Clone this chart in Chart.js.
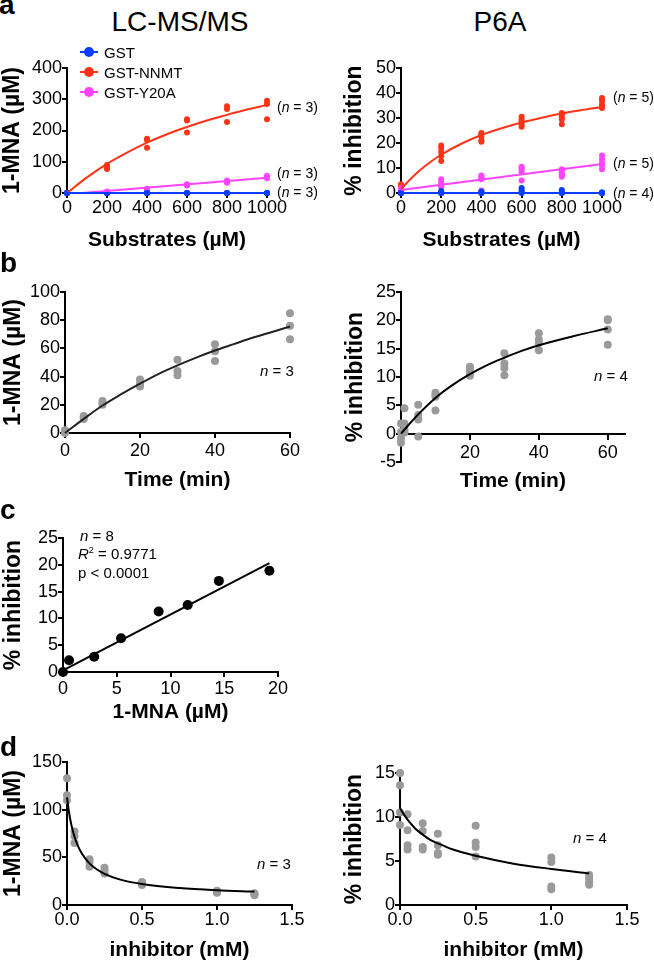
<!DOCTYPE html>
<html>
<head>
<meta charset="utf-8">
<script src="https://cdn.jsdelivr.net/npm/chart.js@4.4.0/dist/chart.umd.min.js"></script>
<style>
  body { margin: 0; background: #fff; }
  #fig { position: relative; width: 654px; height: 964px; overflow: hidden;
         font-family: "Liberation Sans", Arial, sans-serif; color: #000; }
  #fig canvas { position: absolute; }
  .t { position: absolute; line-height: 1; white-space: nowrap; }
  .lg-line { position: absolute; height: 2px; width: 18px; }
  .lg-dot { position: absolute; width: 10px; height: 10px; border-radius: 50%; }
</style>
</head>
<body>
<div id="fig"></div>
<script>
// ── data: panel a (substrates, uM) ──
var subX = [0, 200, 400, 600, 800, 1000];
var subTicks = [0, 200, 400, 600, 800, 1000];

// LC-MS/MS, 1-MNA (uM), replicates per substrate level (n = 3)
var msNNMT = [[0, 0, 0], [90, 82, 77], [174, 170, 145], [236, 232, 194], [278, 269, 227], [295, 285, 236]];
var msY20A = [[0, 0, 0], [5, 3, 2], [14, 12, 10], [28, 26, 24], [40, 36, 33], [55, 50, 47]];
var msGST  = [[0, 0, 0], [0, 0, 0], [0, 0, 0], [0, 0, 0], [0, 0, 0], [0, 0, 0]];
var msYTicks = [0, 100, 200, 300, 400];

// LC-MS/MS fitted curves
var fitMsX    = [0, 100, 200, 300, 400, 500, 600, 700, 800, 900, 1000];
var fitMsNNMT = [0, 50, 93, 129, 161, 188, 211, 232, 250, 267, 282];
var fitMsY20AX = [75, 1000];
var fitMsY20A  = [0, 49];
var fitMsGSTX  = [0, 1000];
var fitMsGST   = [0, 0];

// P6A, % inhibition (n = 5, 5, 4)
var p6aNNMT = [[3.5, 2.5, 2, 1.5, 1], [19, 18, 16.4, 14.8, 12.8], [24, 23.5, 22.5, 21, 20.5],
               [30.5, 29.5, 28.5, 27.5, 26.5], [32, 31.5, 30.5, 29.5, 27.5], [38, 37, 35.5, 34.5, 34]];
var p6aY20A = [[2, 1.5, 1, 1, 0.5], [5.5, 4.5, 3.5, 3, 2.5], [7, 6.5, 6, 5.5, 1],
               [10.5, 10, 9.5, 8.5, 5], [9.5, 8.5, 7.5, 7, 6.5], [15, 13.5, 12, 11, 9.5]];
var p6aGST  = [[0, 0, 0, 0], [0.8, 0.3, 0, 0], [0.6, 0.2, 0, 0], [2, 1.2, 0.5, 0], [1.2, 0.5, 0, 0], [0.3, 0, 0, 0]];
var p6aYTicks = [0, 10, 20, 30, 40, 50];

var fitP6aX    = [0, 50, 100, 150, 200, 300, 400, 500, 600, 700, 800, 900, 1000];
var fitP6aNNMT = [1.5, 5.8, 9.5, 12.6, 15.3, 19.7, 23.2, 25.9, 28.2, 30.1, 31.8, 33.2, 34.4];
var fitP6aY20AX = [0, 1000];
var fitP6aY20A  = [1.2, 11.6];
var fitP6aGSTX  = [0, 1000];
var fitP6aGST   = [0, 0];

// ── data: panel b (time, min) ──
var timeMsX = [0, 5, 10, 20, 30, 40, 60];
var timeMs  = [[0, 1, 2], [12, 11, 10], [22.7, 21, 20], [38, 35, 33], [52, 44, 41], [63, 58, 51], [85, 76, 66.5]];
var fitTimeMsX = [0, 5, 10, 15, 20, 25, 30, 35, 40, 45, 50, 55, 60];
var fitTimeMs  = [0, 10, 19.5, 27.5, 35, 42, 48, 53.5, 58.5, 63, 67.5, 71.5, 75.5];
var timeTicks = [0, 20, 40, 60];
var timeMsYTicks = [0, 20, 40, 60, 80, 100];

var timeP6aX = [0, 1, 5, 10, 20, 30, 40, 60];
var timeP6a  = [[1.8, 0.3, -0.8, -1.6], [4.5, 1.8, 0.8, 0.2], [5.1, 3.3, 2.5, -0.5], [7.2, 6.8, 6.5, 4.1],
                [11.8, 11.4, 10.8, 10.2], [14.2, 12.4, 11.6, 10.3], [17.7, 16.6, 16.0, 14.7], [20.2, 20.0, 18.4, 15.7]];
var fitTimeP6aX = [0, 2, 5, 10, 15, 20, 25, 30, 35, 40, 50, 60];
var fitTimeP6a  = [0, 1.4, 3.4, 6.3, 8.6, 10.5, 12.1, 13.4, 14.6, 15.6, 17.2, 18.6];
var timeP6aXTicks = [20, 40, 60];
var timeP6aYTicks = [-5, 0, 5, 10, 15, 20, 25];

// ── data: panel c (correlation) ──
var corrMNA = [0, 0.56, 2.9, 5.4, 8.9, 11.6, 14.5, 19.2];
var corrInh = [0, 2.2, 2.85, 6.3, 11.3, 12.5, 17.0, 18.9];
var fitCorrX = [0, 19.2];
var fitCorrY = [0.3, 20.3];
var corrXTicks = [0, 5, 10, 15, 20];
var corrYTicks = [0, 5, 10, 15, 20, 25];

// ── data: panel d (inhibitor, mM) ──
var inhX = [0, 0.05, 0.15, 0.25, 0.5, 1.0, 1.25];
var inhMs = [[133, 115, 110], [77, 72, 65], [48, 45, 40], [39, 36, 33], [24, 22, 21], [15, 13.5, 12.8], [12.2, 11, 10.5]];
var fitInhMsX = [0, 0.01, 0.02, 0.03, 0.05, 0.075, 0.1, 0.15, 0.2, 0.25, 0.35, 0.5, 0.75, 1.0, 1.25];
var fitInhMs  = [113, 100.9, 91.3, 83.5, 71.6, 61.2, 53.7, 43.6, 37.2, 32.7, 26.9, 22.0, 17.8, 15.5, 14.1];
var inhP6a = [[15, 13.6, 10.5, 9.1], [10.3, 8.5, 6.8, 6.3], [9.3, 8.4, 6.6, 6.3], [8.1, 6.8, 5.9, 5.7],
              [9.0, 7.1, 6.6, 5.5], [5.4, 4.9, 2.1, 1.8], [3.4, 3.0, 2.6, 2.3]];
var fitInhP6aX = [0, 0.025, 0.05, 0.1, 0.15, 0.2, 0.25, 0.35, 0.5, 0.75, 1.0, 1.25];
var fitInhP6a  = [11, 10.3, 9.7, 8.7, 8.0, 7.4, 7.0, 6.3, 5.6, 4.7, 4.1, 3.6];
var inhXTicks = [0, 0.5, 1, 1.5];
var inhXLabels = ['0.0', '0.5', '1.0', '1.5'];
var inhMsYTicks = [0, 50, 100, 150];
var inhP6aYTicks = [0, 5, 10, 15];

// ── look ──
var FONT = '"Liberation Sans", Arial, sans-serif';
var RED = '#ff3318', PINK = '#ff44ff', BLUE = '#0a3dff', GREY = '#9a9a9a';
var fig = document.getElementById('fig');

function reps(xs, rows) {
  var out = [];
  xs.forEach(function(x, i) { rows[i].forEach(function(y) { out.push({ x: x, y: y }); }); });
  return out;
}
function pts(xs, ys) { return xs.map(function(x, i) { return { x: x, y: ys[i] }; }); }

function dots(data, color, r) {
  return { data: data, showLine: false, pointRadius: r, pointHoverRadius: r,
           backgroundColor: color, borderWidth: 0, pointBorderWidth: 0, clip: false };
}
function fit(data, color, smooth) {
  return { data: data, showLine: true, pointRadius: 0, pointHoverRadius: 0, borderColor: color,
           borderWidth: 2, tension: smooth ? 0.4 : 0, cubicInterpolationMode: smooth ? 'monotone' : 'default',
           fill: false, clip: false };
}

function axis(s, dir, size, pad) {
  return {
    type: 'linear', min: s.min, max: s.max,
    position: s.pos || (dir === 'x' ? 'bottom' : 'left'),
    afterBuildTicks: function(sc) { sc.ticks = s.ticks.map(function(v) { return { value: v }; }); },
    afterFit: function(sc) { if (dir === 'x') sc.height = size; else sc.width = size; },
    grid: { drawOnChartArea: false, drawTicks: true, tickLength: 5, lineWidth: 2, color: '#000' },
    border: { display: true, color: '#000', width: 2 },
    ticks: { color: '#000', padding: pad, maxRotation: 0, autoSkip: false,
             font: { family: FONT, size: 18 },
             callback: function(v, i) { return s.labels ? s.labels[i] : String(s.ticks[i]); } },
    title: { display: true, text: s.title, color: '#000', padding: 0,
             font: { family: FONT, size: dir === 'x' ? 21 : 23, weight: 'bold' } }
  };
}

// b: plot area in page px, yw / xh: width of y axis box / height of x axis box
function panel(b, xs, ys, datasets) {
  var padT = 14, padR = 24, padB = b.padB || 0;
  var left = b.L - b.yw, top = b.T - padT;
  var w = b.R + padR - left;
  var h = b.B + (xs.pos ? 0 : b.xh) + padB - top;
  var cv = document.createElement('canvas');
  cv.width = w; cv.height = h;
  cv.style.left = left + 'px'; cv.style.top = top + 'px';
  fig.appendChild(cv);
  new Chart(cv, {
    type: 'scatter',
    data: { datasets: datasets },
    options: {
      responsive: false, animation: false,
      layout: { padding: { top: padT, right: padR, bottom: padB, left: 0 } },
      plugins: { legend: { display: false }, tooltip: { enabled: false } },
      scales: { x: axis(xs, 'x', b.xh, b.xpad), y: axis(ys, 'y', b.yw, 0) }
    }
  });
}

// ── panel a ──
panel({ L: 67, R: 267, T: 68, B: 193, yw: 68, xh: 60, xpad: -1 },
  { min: 0, max: 1000, ticks: subTicks, title: 'Substrates (\u00b5M)' },
  { min: 0, max: 400, ticks: msYTicks, title: '1-MNA (\u00b5M)' },
  [ fit(pts(fitMsGSTX, fitMsGST), BLUE, false),
    fit(pts(fitMsY20AX, fitMsY20A), PINK, false),
    fit(pts(fitMsX, fitMsNNMT), RED, true),
    dots(reps(subX, msGST), BLUE, 3),
    dots(reps(subX, msY20A), PINK, 3),
    dots(reps(subX, msNNMT), RED, 3) ]);

panel({ L: 401, R: 602, T: 68, B: 193, yw: 60, xh: 60, xpad: -1 },
  { min: 0, max: 1000, ticks: subTicks, title: 'Substrates (\u00b5M)' },
  { min: 0, max: 50, ticks: p6aYTicks, title: '% inhibition' },
  [ fit(pts(fitP6aX, fitP6aNNMT), RED, true),
    fit(pts(fitP6aY20AX, fitP6aY20A), PINK, false),
    fit(pts(fitP6aGSTX, fitP6aGST), BLUE, false),
    dots(reps(subX, p6aGST), BLUE, 3),
    dots(reps(subX, p6aY20A), PINK, 3),
    dots(reps(subX, p6aNNMT), RED, 3) ]);

// ── panel b ──
panel({ L: 65, R: 290, T: 292, B: 433, yw: 65, xh: 60, xpad: 2 },
  { min: 0, max: 60, ticks: timeTicks, title: 'Time (min)' },
  { min: 0, max: 100, ticks: timeMsYTicks, title: '1-MNA (\u00b5M)' },
  [ fit(pts(fitTimeMsX, fitTimeMs), '#222', true),
    dots(reps(timeMsX, timeMs), GREY, 4) ]);

panel({ L: 401, R: 625, T: 292, B: 462, yw: 59, xh: 60, xpad: 4, padB: 30 },
  { min: 0, max: 65, ticks: timeP6aXTicks, title: 'Time (min)', pos: { y: 0 } },
  { min: -5, max: 25, ticks: timeP6aYTicks, title: '% inhibition' },
  [ fit(pts(fitTimeP6aX, fitTimeP6a), '#000', true),
    dots(reps(timeP6aX, timeP6a), GREY, 4) ]);

// ── panel c ──
panel({ L: 63, R: 278, T: 538, B: 672, yw: 63, xh: 53, xpad: 1 },
  { min: 0, max: 20, ticks: corrXTicks, title: '1-MNA (\u00b5M)' },
  { min: 0, max: 25, ticks: corrYTicks, title: '% inhibition' },
  [ fit(pts(fitCorrX, fitCorrY), '#000', false),
    dots(pts(corrMNA, corrInh), '#000', 5) ]);

// ── panel d ──
panel({ L: 67, R: 292, T: 762, B: 905, yw: 67, xh: 58, xpad: -1 },
  { min: 0, max: 1.5, ticks: inhXTicks, labels: inhXLabels, title: 'inhibitor (mM)' },
  { min: 0, max: 150, ticks: inhMsYTicks, title: '1-MNA (\u00b5M)' },
  [ fit(pts(fitInhMsX, fitInhMs), '#000', true),
    dots(reps(inhX, inhMs), GREY, 4) ]);

panel({ L: 400, R: 627, T: 773, B: 905, yw: 59, xh: 58, xpad: -1 },
  { min: 0, max: 1.5, ticks: inhXTicks, labels: inhXLabels, title: 'inhibitor (mM)' },
  { min: 0, max: 15, ticks: inhP6aYTicks, title: '% inhibition' },
  [ fit(pts(fitInhP6aX, fitInhP6a), '#000', true),
    dots(reps(inhX, inhP6a), GREY, 4) ]);

// ── text overlays ──
function txt(html, left, top, size, extra) {
  var d = document.createElement('div');
  d.className = 't';
  d.innerHTML = html;
  d.style.left = left + 'px'; d.style.top = top + 'px'; d.style.fontSize = size + 'px';
  if (extra) for (var k in extra) d.style[k] = extra[k];
  fig.appendChild(d);
  return d;
}
var bold = { fontWeight: 'bold' };
txt('a', -1, -9, 28, bold);
txt('b', 0, 249, 28, bold);
txt('c', 0, 496, 28, bold);
txt('d', 0, 733, 28, bold);
txt('LC-MS/MS', 80, 8, 28, { width: '200px', textAlign: 'center' });
txt('P6A', 400, 8, 28, { width: '200px', textAlign: 'center' });

// legend
var legendItems = [['GST', BLUE, 52], ['GST-NNMT', RED, 72], ['GST-Y20A', PINK, 92]];
legendItems.forEach(function(it) {
  var ln = document.createElement('div');
  ln.className = 'lg-line'; ln.style.left = '80px'; ln.style.top = (it[2] - 1) + 'px'; ln.style.background = it[1];
  fig.appendChild(ln);
  var dt = document.createElement('div');
  dt.className = 'lg-dot'; dt.style.left = '84px'; dt.style.top = (it[2] - 5) + 'px'; dt.style.background = it[1];
  fig.appendChild(dt);
  txt(it[0], 104, it[2] - 7.5, 15);
});

// n labels
txt('(<i>n</i> = 3)', 277, 100, 14);
txt('(<i>n</i> = 3)', 277, 166, 14);
txt('(<i>n</i> = 3)', 277, 185, 14);
txt('(<i>n</i> = 5)', 613, 90, 14);
txt('(<i>n</i> = 5)', 613, 156, 14);
txt('(<i>n</i> = 4)', 613, 186, 14);
txt('<i>n</i> = 3', 260, 362.5, 15);
txt('<i>n</i> = 4', 594, 367.5, 15);
txt('<i>n</i> = 8', 80, 527.5, 15);
txt('<i>R</i><sup style="font-size:9px;vertical-align:6px">2</sup> = 0.9771', 78, 545.5, 15);
txt('p &lt; 0.0001', 78, 564.5, 15);
txt('<i>n</i> = 3', 257, 855.5, 15);
txt('<i>n</i> = 4', 573, 829.5, 15);
</script>
</body>
</html>
